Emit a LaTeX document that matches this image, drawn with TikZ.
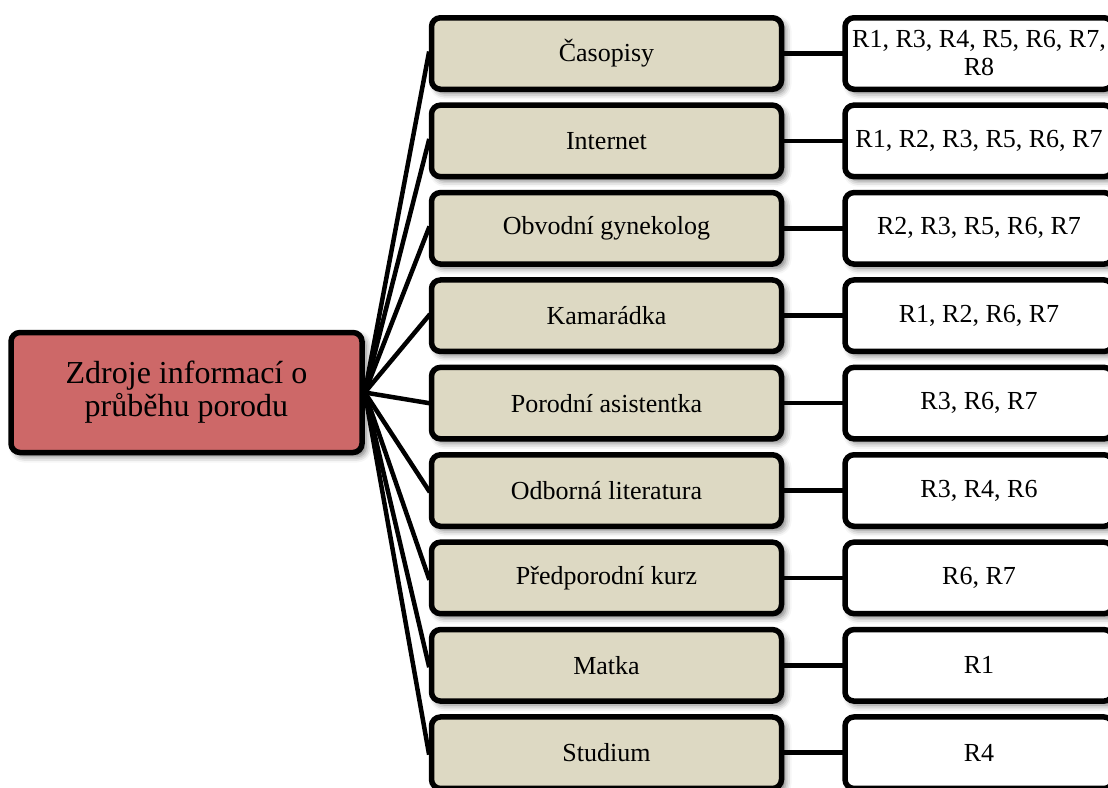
\documentclass[tikz,border=0pt]{standalone}
\usepackage{fontspec}
\setmainfont{Liberation Serif}
\usetikzlibrary{shadows.blur}
\definecolor{rootred}{HTML}{CD6868}
\definecolor{tan}{HTML}{DDD9C3}
\tikzset{
  boxbase/.style={draw=black, line width=5.5pt, rounded corners=9pt, inner sep=0pt,
    align=center, text=black,
    blur shadow={shadow xshift=4pt, shadow yshift=-4pt, shadow blur radius=6pt, shadow opacity=55}},
  rootbox/.style={boxbase, fill=rootred, minimum width=351pt, minimum height=120pt,
    font=\fontsize{32}{33}\selectfont},
  srcbox/.style={boxbase, fill=tan, minimum width=350pt, minimum height=71.5pt,
    font=\fontsize{26}{28}\selectfont},
  resbox/.style={boxbase, fill=white, minimum width=268pt, minimum height=71.5pt,
    font=\fontsize{26}{28}\selectfont},
  conn/.style={draw=black, line width=4.5pt, shorten <=-3pt, shorten >=-2pt},
}
\begin{document}
\begin{tikzpicture}[x={(1pt,0)}, y={(0,-1pt)}]
\useasboundingbox (0,0) rectangle (1108,787);

% root
\node[rootbox] (root) at (186.5,392.5) {Zdroje informací o\\průběhu porodu};

% sources and the respondents naming them
\foreach \i/\src/\res in {
  1/{Časopisy}/{R1, R3, R4, R5, R6, R7,\\R8},
  2/{Internet}/{R1, R2, R3, R5, R6, R7},
  3/{Obvodní gynekolog}/{R2, R3, R5, R6, R7},
  4/{Kamarádka}/{R1, R2, R6, R7},
  5/{Porodní asistentka}/{R3, R6, R7},
  6/{Odborná literatura}/{R3, R4, R6},
  7/{Předporodní kurz}/{R6, R7},
  8/{Matka}/{R1},
  9/{Studium}/{R4}} {
  \node[srcbox] (s\i) at (606.5, {53.5+87.4*(\i-1)}) {\src};
  \node[resbox] (r\i) at (979, {53.5+87.4*(\i-1)}) {\res};
  \draw[conn] (root.east) -- (s\i.west);
  \draw[conn] (s\i.east) -- (r\i.west);
}
\end{tikzpicture}
\end{document}
